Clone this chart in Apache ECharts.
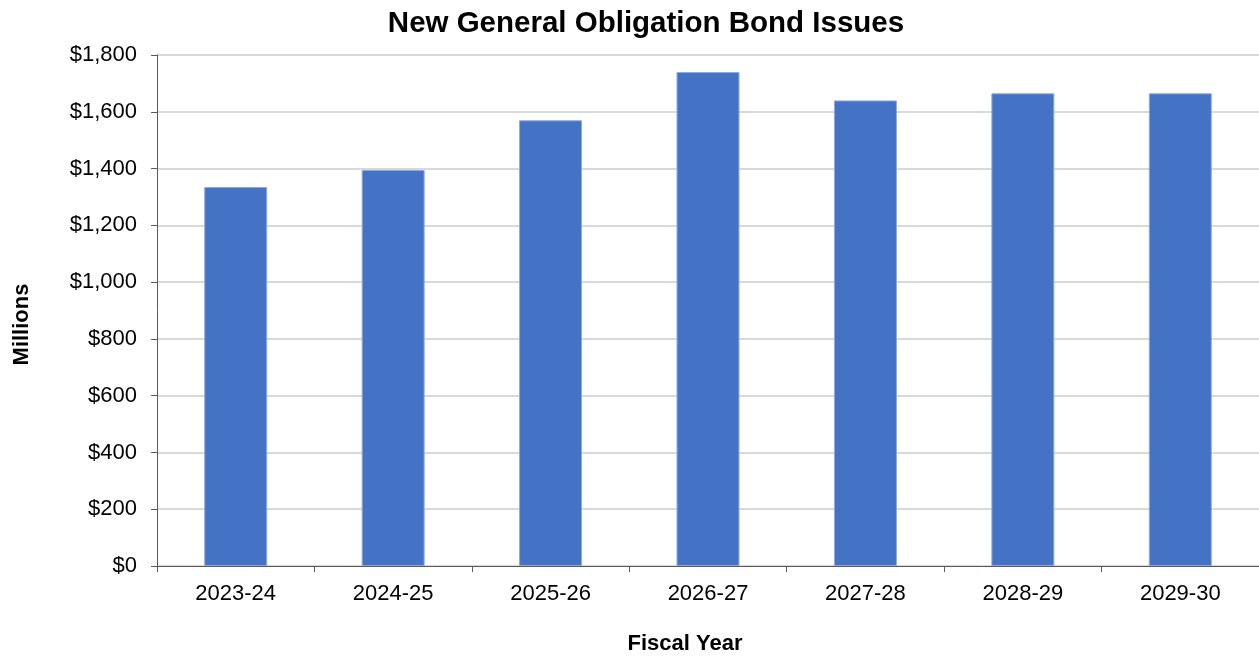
<!DOCTYPE html>
<html><head><meta charset="utf-8">
<script src="https://cdn.jsdelivr.net/npm/echarts@6/dist/echarts.min.js"></script>
<style>html,body{margin:0;padding:0;background:#fff}#c{width:1259px;height:656px}</style>
</head><body><div id="c"></div>
<script>
const categories = ['2023-24','2024-25','2025-26','2026-27','2027-28','2028-29','2029-30'];
const bondIssues = [1335, 1395, 1570, 1740, 1640, 1665, 1665];
const chartTitle = 'New General Obligation Bond Issues';
const yName = 'Millions';
const xName = 'Fiscal Year';

const chart = echarts.init(document.getElementById('c'));
const font = '"Liberation Sans", Arial, sans-serif';
chart.setOption({
  animation: false,
  title: { text: chartTitle, left: 641, top: 4, textAlign: 'center',
    textStyle: { fontFamily: font, fontSize: 29.5, fontWeight: 'bold', color: '#000' } },
  grid: { left: 157, right: 0, top: 55, bottom: 90, containLabel: false, outerBoundsMode: 'none' },
  xAxis: {
    type: 'category', data: categories,
    name: xName, nameLocation: 'middle', nameGap: 67,
    nameTextStyle: { fontFamily: font, fontSize: 22, fontWeight: 'bold', color: '#000', padding: [0, 46, 0, 0] },
    axisLine: { lineStyle: { color: '#595959', width: 1 } },
    axisTick: { show: true, length: 6, lineStyle: { color: '#595959' } },
    axisLabel: { fontFamily: font, fontSize: 22, color: '#000', margin: 17 }
  },
  yAxis: {
    type: 'value', min: 0, max: 1800, interval: 200,
    name: yName, nameLocation: 'middle', nameGap: 124, nameRotate: 90,
    nameTextStyle: { fontFamily: font, fontSize: 22, fontWeight: 'bold', color: '#000', padding: [0, 28, 0, 0] },
    axisLine: { show: true, lineStyle: { color: '#595959', width: 1 } },
    axisTick: { show: true, length: 6, lineStyle: { color: '#595959' } },
    axisLabel: { fontFamily: font, fontSize: 22, color: '#000', margin: 20,
      formatter: v => '$' + v.toLocaleString('en-US') },
    splitLine: { lineStyle: { color: '#d9d9d9', width: 2 } }
  },
  series: [{
    type: 'bar', data: bondIssues, barWidth: '40%',
    itemStyle: { color: '#4472c4', borderColor: '#8fa9dc', borderWidth: 1 }
  }]
});
</script></body></html>
